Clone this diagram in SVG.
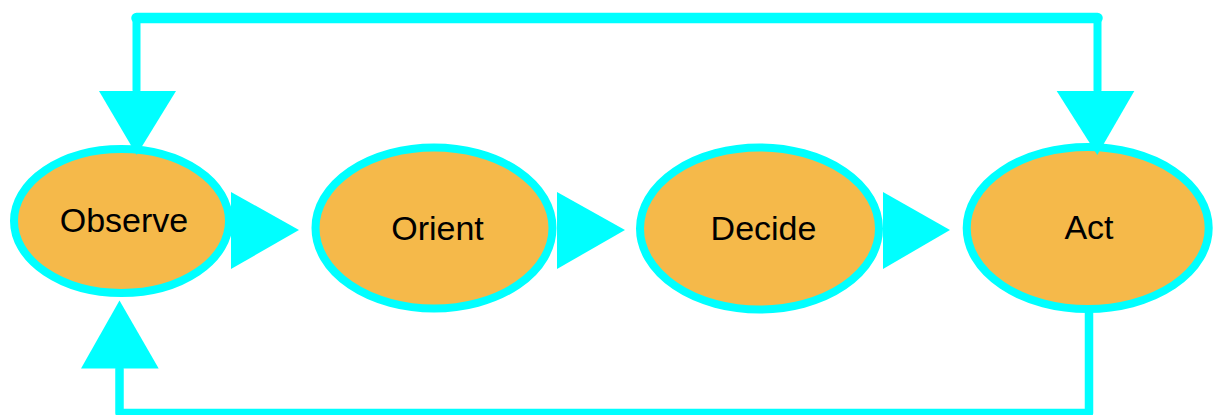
<svg xmlns="http://www.w3.org/2000/svg" width="1213" height="415" viewBox="0 0 1213 415">
<style>
.node ellipse{fill:#F5B94A;stroke:#00FFFF;stroke-width:8}
.node text{font-family:"Liberation Sans",Arial,sans-serif;font-size:34px;fill:#000;text-anchor:middle}
.line{fill:none;stroke:#00FFFF;stroke-linecap:round;stroke-linejoin:round}
.head{fill:#00FFFF;stroke:none}
</style>
<rect width="1213" height="415" fill="#fff"/>
<g id="connectors">
<path class="line" d="M136.5,90 V18 H1097.5 V90" stroke-width="8"/>
<path class="line" d="M136.5,18 H1097.5" stroke-width="10.5"/>
<path class="line" d="M119.5,369 V413 H1089 V313" stroke-width="8.5"/>
</g>
<g id="node-observe" class="node">
<ellipse cx="121.5" cy="221" rx="107.5" ry="72"/>
<text x="124" y="231.5">Observe</text>
</g>
<g id="node-orient" class="node">
<ellipse cx="434" cy="228" rx="118.5" ry="80.5"/>
<text x="437.5" y="240">Orient</text>
</g>
<g id="node-decide" class="node">
<ellipse cx="759.5" cy="228.5" rx="119.5" ry="81"/>
<text x="763.5" y="240">Decide</text>
</g>
<g id="node-act" class="node">
<ellipse cx="1087.7" cy="228" rx="121" ry="81"/>
<text x="1089" y="239">Act</text>
</g>
<g id="arrowheads">
<polygon class="head" points="99,91 176,91 136.7,155"/>
<polygon class="head" points="1056.7,91 1134.3,91 1097.3,155"/>
<polygon class="head" points="81,368.5 158.7,368.5 119.5,300.5"/>
<polygon class="head" points="231,192 231,269 299,230"/>
<polygon class="head" points="557,192 557,269 625,230"/>
<polygon class="head" points="883,192 883,269 950,230"/>
</g>
</svg>
